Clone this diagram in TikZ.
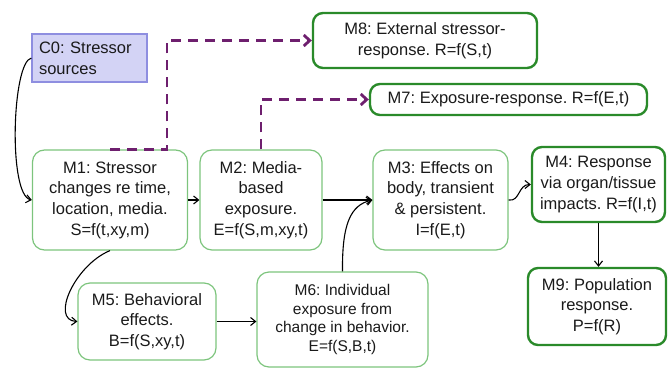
\documentclass[tikz,border=0pt]{standalone}
\usepackage{fontspec}
\setmainfont{Liberation Sans}
\usetikzlibrary{positioning, arrows.meta, calc}
\definecolor{mlight}{HTML}{7DC47D}
\definecolor{mdark}{HTML}{2A8A2A}
\definecolor{mpurple}{HTML}{6E1F6E}
\definecolor{srcfill}{HTML}{D3D3F5}
\definecolor{srcline}{HTML}{8E8EE0}
\definecolor{mtext}{HTML}{1A1A1A}

\tikzset{
  model/.style={draw=mlight, line width=1.2pt, rounded corners=12pt, align=center,
    text=mtext, font=\fontsize{16.5}{20.7}\selectfont, inner sep=0pt},
  outcome/.style={model, draw=mdark, line width=2.4pt, rounded corners=10pt},
  source/.style={draw=srcline, fill=srcfill, line width=1.2pt, align=left,
    text=mtext, font=\fontsize{16.5}{20.7}\selectfont, inner sep=0pt},
  flow/.style={line width=1.1pt, -{Straight Barb[length=5pt,width=8pt]}},
  resp/.style={mpurple, line width=2.8pt, dash pattern=on 10pt off 7pt,
    -{Straight Barb[length=6pt,width=11pt]}}
}

\begin{document}
\frenchspacing
\begin{tikzpicture}[x=1pt, y=1pt]
    \useasboundingbox (0,0) rectangle (668,-369);
    % sources
    \node[source, minimum width=115, minimum height=48, text width=101] (c0) at (89.5,-58) {C0: Stressor\\sources};
    % model boxes
    \node[model, minimum width=155, minimum height=100] (m1) at (110,-200) {M1: Stressor\\changes re time,\\location, media.\\S=f(t,xy,m)};
    \node[model, minimum width=122, minimum height=100] (m2) at (261,-200) {M2: Media-\\based\\exposure.\\E=f(S,m,xy,t)};
    \node[model, minimum width=135, minimum height=100] (m3) at (440.5,-200) {M3: Effects on\\body, transient\\\& persistent.\\I=f(E,t)};
    \node[model, minimum width=138, minimum height=77] (m5) at (147,-321.5) {M5: Behavioral\\effects.\\B=f(S,xy,t)};
    \node[model, minimum width=171, minimum height=95, font=\fontsize{15.5}{18.8}\selectfont] (m6) at (342.5,-319.5) {M6: Individual\\exposure from\\change in behavior.\\E=f(S,B,t)};
    % response boxes
    \node[outcome, minimum width=133, minimum height=75] (m4) at (598.5,-184.5) {M4: Response\\via organ/tissue\\impacts. R=f(I,t)};
    \node[outcome, minimum width=138, minimum height=77] (m9) at (597,-306.5) {M9: Population\\response.\\P=f(R)};
    \node[outcome, minimum width=277, minimum height=31] (m7) at (508.5,-99.5) {M7: Exposure-response. R=f(E,t)};
    \node[outcome, minimum width=224, minimum height=55] (m8) at (425,-40.5) {M8: External stressor-\\response. R=f(S,t)};

    % solid links
    \draw[flow] (c0.west) .. controls (12,-62) and (8,-195) .. (m1.west);
    \draw[flow] (m1.east) -- (m2.west);
    \draw[flow] (m1.south) .. controls (75,-265) and (50,-320) .. (m5.west);
    \draw[flow] (m5.east) -- (m5.east -| m6.west);
    \draw[flow] (m2.east) -- (m3.west);
    \draw[flow] (m6.north) .. controls (342,-225) and (350,-205) .. (m3.west);
    \draw[flow] (m3.east) .. controls (520,-202) and (518,-184.5) .. (m4.west);
    \draw[flow] (m4.south) -- (m4.south |- m9.north);

    % dashed response links
    \draw[resp] (m1.north) -- ++(57,0) |- (m8.west);
    \draw[resp] (m2.north) |- (m7.west);
\end{tikzpicture}
\end{document}
